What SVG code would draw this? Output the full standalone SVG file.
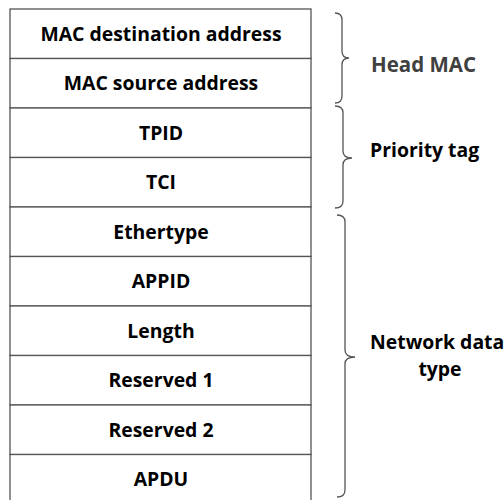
<svg xmlns="http://www.w3.org/2000/svg" width="504" height="500" viewBox="0 0 504 500">
<style>
.cell{fill:#fff;stroke:#555;stroke-width:1.3}
.t{font-family:"Open Sans","Noto Sans",sans-serif;font-weight:bold;font-size:19.4px;fill:#000;text-anchor:middle}
.lbl{font-family:"Open Sans","Noto Sans",sans-serif;font-weight:bold;font-size:19.4px;fill:#000}
.brace{fill:none;stroke:#555;stroke-width:1.3}
</style>
<rect width="504" height="500" fill="#fff"/>
<g id="r1"><rect class="cell" x="10" y="9" width="301" height="49.5"/><text class="t" x="161" y="41">MAC destination address</text></g>
<g id="r2"><rect class="cell" x="10" y="58.5" width="301" height="49.5"/><text class="t" x="161" y="90">MAC source address</text></g>
<g id="r3"><rect class="cell" x="10" y="108" width="301" height="49.5"/><text class="t" x="161" y="139.5">TPID</text></g>
<g id="r4"><rect class="cell" x="10" y="157.5" width="301" height="49.5"/><text class="t" x="161" y="189">TCI</text></g>
<g id="r5"><rect class="cell" x="10" y="207" width="301" height="49.5"/><text class="t" x="161" y="239">Ethertype</text></g>
<g id="r6"><rect class="cell" x="10" y="256.5" width="301" height="49.5"/><text class="t" x="161" y="288">APPID</text></g>
<g id="r7"><rect class="cell" x="10" y="306" width="301" height="49.5"/><text class="t" x="161" y="338">Length</text></g>
<g id="r8"><rect class="cell" x="10" y="355.5" width="301" height="49.5"/><text class="t" x="161" y="387">Reserved 1</text></g>
<g id="r9"><rect class="cell" x="10" y="405" width="301" height="49.5"/><text class="t" x="161" y="437">Reserved 2</text></g>
<g id="r10"><rect class="cell" x="10" y="454.5" width="301" height="49.5"/><text class="t" x="161" y="486">APDU</text></g>
<g id="connectors">
<path class="brace" d="M335,13 Q342,13 342,20 L342,51 Q342,58 349,58 Q342,58 342,65 L342,96 Q342,103 335,103"/>
<path class="brace" d="M335,106 Q343,106 343,113 L343,151 Q343,158 352,158 Q343,158 343,165 L343,201 Q343,208 335,208"/>
<path class="brace" d="M337,215 Q345,215 345,222 L345,350 Q345,357 355,357 Q345,357 345,364 L345,490 Q345,497 337,497"/>
</g>
<g id="head-mac"><text class="lbl" x="371" y="72" style="fill:#404040;font-size:20.5px">Head MAC</text></g>
<g id="priority-tag"><text class="lbl" x="370" y="157">Priority tag</text></g>
<g id="network-data"><text class="lbl" x="370" y="349">Network data</text><text class="t" x="440" y="376">type</text></g>
</svg>
